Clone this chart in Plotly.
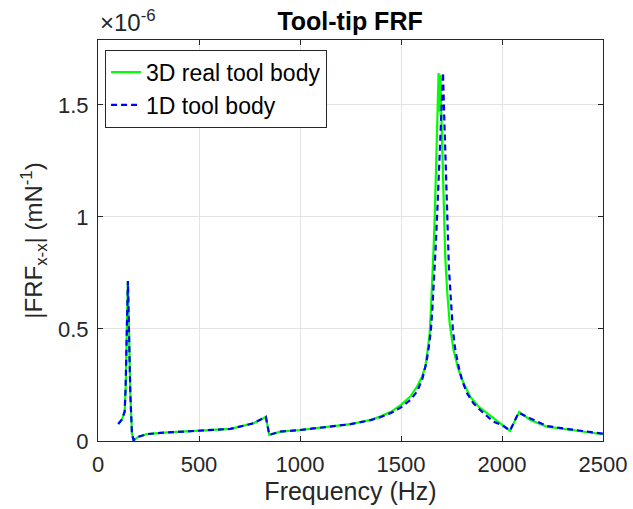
import plotly.graph_objects as go

# Frequency (Hz) and |FRF| (x1e-6 m/N)
freq_3d = [100, 119, 132, 137, 143, 148, 153, 160, 168, 176, 201, 243, 325, 490, 655, 770, 831, 848, 902,
           1000, 1150, 1250, 1350, 1400, 1450, 1500, 1546, 1579, 1604, 1620, 1632, 1642, 1648, 1655, 1661,
           1667, 1671, 1675, 1680, 1683, 1686, 1689, 1692, 1695, 1700, 1705, 1711, 1719, 1728, 1741, 1760,
           1785, 1810, 1843, 1884, 1926, 1975, 2000, 2040, 2085, 2140, 2222, 2338, 2500]
frf_3d = [0.076, 0.097, 0.131, 0.242, 0.51, 0.714, 0.51, 0.213, 0.034, 0.004, 0.019, 0.031, 0.037, 0.045,
          0.054, 0.079, 0.108, 0.027, 0.042, 0.049, 0.064, 0.075, 0.095, 0.11, 0.13, 0.161, 0.198, 0.242,
          0.287, 0.332, 0.406, 0.482, 0.585, 0.705, 0.853, 1.0, 1.15, 1.30, 1.448, 1.60, 1.643, 1.47, 1.62,
          1.635, 1.448, 1.30, 1.076, 0.823, 0.674, 0.525, 0.406, 0.317, 0.258, 0.198, 0.153, 0.124, 0.091,
          0.071, 0.045, 0.13, 0.094, 0.064, 0.049, 0.030]

freq_1d = [100, 119, 132, 137, 143, 148, 153, 160, 168, 176, 201, 243, 325, 490, 655, 770, 831, 848, 902,
           1000, 1150, 1250, 1350, 1400, 1450, 1500, 1546, 1579, 1604, 1625, 1638, 1648, 1655, 1663, 1671,
           1680, 1686, 1695, 1700, 1705, 1708, 1714, 1723, 1729, 1737, 1748, 1757, 1769, 1785, 1802, 1827,
           1859, 1909, 1958, 2000, 2040, 2082, 2140, 2222, 2338, 2500]
frf_1d = [0.076, 0.097, 0.131, 0.242, 0.51, 0.714, 0.51, 0.213, 0.034, 0.004, 0.019, 0.031, 0.037, 0.045,
          0.054, 0.079, 0.108, 0.027, 0.042, 0.049, 0.064, 0.075, 0.093, 0.107, 0.125, 0.150, 0.183, 0.220,
          0.272, 0.347, 0.421, 0.496, 0.585, 0.704, 0.853, 1.031, 1.15, 1.329, 1.448, 1.567, 1.644, 1.448,
          1.15, 0.972, 0.778, 0.615, 0.496, 0.406, 0.332, 0.272, 0.213, 0.168, 0.124, 0.086, 0.071, 0.047,
          0.126, 0.101, 0.067, 0.052, 0.033]

y_tick_vals = [0, 0.5e-6, 1e-6, 1.5e-6]
y_tick_text = ["0", "0.5", "1", "1.5"]
x_tick_vals = [0, 500, 1000, 1500, 2000, 2500]

FONT = "Liberation Sans, Arial, Helvetica, sans-serif"
TXT = "#262626"

fig = go.Figure()
fig.add_trace(go.Scatter(x=freq_3d, y=[v * 1e-6 for v in frf_3d], mode="lines",
                         name="3D real tool body",
                         line=dict(color="#00FF00", width=2.2)))
fig.add_trace(go.Scatter(x=freq_1d, y=[v * 1e-6 for v in frf_1d], mode="lines",
                         name="1D tool body",
                         line=dict(color="#0000FF", width=2.2, dash="6px,4px")))

axis_common = dict(showline=True, linecolor=TXT, linewidth=1, mirror="ticks",
                   ticks="inside", ticklen=5, tickcolor=TXT,
                   showgrid=True, gridcolor="#E3E3E3", gridwidth=1, zeroline=False,
                   automargin=False,
                   tickfont=dict(family=FONT, size=22, color=TXT))

fig.update_layout(
    width=633, height=509,
    margin=dict(l=98, r=30, t=40, b=68, pad=0, autoexpand=False),
    paper_bgcolor="white", plot_bgcolor="white",
    title=dict(text="<b>Tool-tip FRF</b>", x=0.553, xanchor="center", y=0.958, yanchor="middle",
               font=dict(family=FONT, size=25, color="black")),
    xaxis=dict(range=[0, 2500], tickvals=x_tick_vals, ticklabelstandoff=4,
               title=dict(text="Frequency (Hz)", font=dict(family=FONT, size=25, color=TXT), standoff=3),
               **axis_common),
    yaxis=dict(range=[0, 1.79e-6], tickvals=y_tick_vals, ticktext=y_tick_text, ticklabelstandoff=4,
               title=dict(text="|FRF<sub>x-x</sub>| (mN<sup>-1</sup>)",
                          font=dict(family=FONT, size=24, color=TXT), standoff=8),
               **axis_common),
    legend=dict(x=0.014, y=0.976, xanchor="left", yanchor="top",
                bgcolor="white", bordercolor=TXT, borderwidth=1,
                font=dict(family=FONT, size=23, color="black"),
                tracegroupgap=0, itemwidth=30),
    showlegend=True,
)

fig.add_annotation(text="×10<sup>-6</sup>", xref="paper", yref="paper", x=0.0, y=1.0,
                   xanchor="left", yanchor="bottom", showarrow=False, yshift=2,
                   font=dict(family=FONT, size=24, color=TXT))

fig.write_html("out.html")
